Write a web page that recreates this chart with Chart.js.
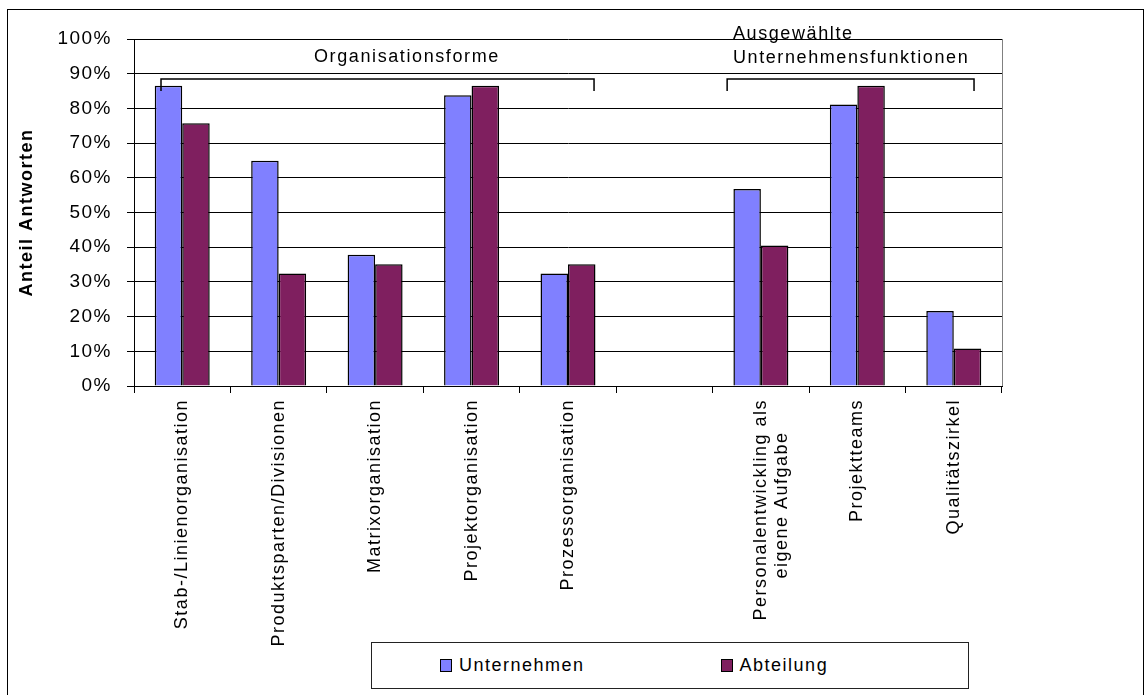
<!DOCTYPE html>
<html>
<head>
<meta charset="utf-8">
<script src="https://cdn.jsdelivr.net/npm/chart.js@4/dist/chart.umd.min.js"></script>
<style>
    body { margin: 0; background: #fff; }
    #wrap { position: relative; width: 1144px; height: 695px; overflow: hidden; }
    #frame { position: absolute; left: 7px; top: 9px; width: 1135px; height: 720px; border: 1px solid #000; }
    #chartBox { position: absolute; left: 0; top: 0; width: 1144px; height: 695px; }
    #legendBox {
        position: absolute; left: 371px; top: 642px; width: 598px; height: 47px;
        border: 1px solid #222; background: #fff;
        display: flex; align-items: center; padding-left: 68px; gap: 136px; box-sizing: border-box;
        font-family: "Liberation Sans", Arial, sans-serif; font-size: 18px; letter-spacing: 1.5px; color: #000;
    }
    .item { display: flex; align-items: center; }
    .swatch { width: 10px; height: 11px; border: 1px solid #000; margin-right: 7px; }
</style>
</head>
<body>
<div id="wrap">
    <div id="frame"></div>
    <div id="chartBox"><canvas id="umfrage"></canvas></div>
    <div id="legendBox"></div>
</div>
<script>
// Kategorien (leere Kategorie trennt die beiden Gruppen)
let categories = [
    'Stab-/Linienorganisation',
    'Produktsparten/Divisionen',
    'Matrixorganisation',
    'Projektorganisation',
    'Prozessorganisation',
    '',
    ['Personalentwickling als', 'eigene Aufgabe     '],
    'Projektteams',
    'Qualitätszirkel'
];
let seriesNames = ['Unternehmen', 'Abteilung'];
let unternehmen = [86.5, 64.9, 37.8, 83.8, 32.4, null, 56.8, 81.1, 21.6];
let abteilung = [75.7, 32.4, 35.1, 86.5, 35.1, null, 40.5, 86.5, 10.8];
let yTicks = [0, 10, 20, 30, 40, 50, 60, 70, 80, 90, 100];
let groupTitles = [['Organisationsforme'], ['Ausgewählte', 'Unternehmensfunktionen']];

let colors = ['#8080ff', '#7f1f5f'];
let fontName = '"Liberation Sans", Arial, sans-serif';

function spacing(chart) {
    chart.ctx.letterSpacing = '1.5px';
}

// Gruppenbeschriftung mit Klammern, rechter Rand der Zeichenfläche
let gruppenPlugin = {
    id: 'gruppen',
    beforeUpdate: spacing,
    beforeDraw: spacing,
    beforeDatasetsDraw(chart) {
        let ctx = chart.ctx;
        let area = chart.chartArea;
        ctx.save();
        ctx.strokeStyle = '#808080';
        ctx.lineWidth = 1;
        ctx.beginPath();
        ctx.moveTo(Math.round(area.right) + 0.5, area.top);
        ctx.lineTo(Math.round(area.right) + 0.5, area.bottom);
        ctx.stroke();
        ctx.restore();
    },
    afterDraw(chart) {
        let ctx = chart.ctx;
        let x = chart.scales.x;
        let y = chart.scales.y;
        ctx.save();
        ctx.letterSpacing = '1.6px';
        ctx.strokeStyle = '#000';
        ctx.lineWidth = 1.5;
        let brackets = [[-0.22, 4.27], [5.65, 8.21]];
        brackets.forEach(function (b) {
            let x1 = x.getPixelForValue(b[0]);
            let x2 = x.getPixelForValue(b[1]);
            let yTop = y.getPixelForValue(88.5);
            let yEnd = y.getPixelForValue(85);
            ctx.beginPath();
            ctx.moveTo(x1, yEnd);
            ctx.lineTo(x1, yTop);
            ctx.lineTo(x2, yTop);
            ctx.lineTo(x2, yEnd);
            ctx.stroke();
        });
        ctx.fillStyle = '#000';
        ctx.font = '18px ' + fontName;
        ctx.textBaseline = 'alphabetic';
        ctx.textAlign = 'center';
        ctx.fillText(groupTitles[0][0], x.getPixelForValue(2.33), y.getPixelForValue(93.4));
        ctx.textAlign = 'left';
        ctx.fillText(groupTitles[1][0], x.getPixelForValue(5.71), y.getPixelForValue(100));
        ctx.fillText(groupTitles[1][1], x.getPixelForValue(5.71), y.getPixelForValue(93.1));
        ctx.restore();
    }
};

function buildLegend() {
    let box = document.getElementById('legendBox');
    seriesNames.forEach(function (name, i) {
        let item = document.createElement('div');
        item.className = 'item';
        let sw = document.createElement('span');
        sw.className = 'swatch';
        sw.style.background = colors[i];
        let txt = document.createElement('span');
        txt.textContent = name;
        item.appendChild(sw);
        item.appendChild(txt);
        box.appendChild(item);
    });
}

function setupChart() {
    let ctx = document.getElementById('umfrage').getContext('2d');
    return new Chart(ctx, {
        type: 'bar',
        data: {
            labels: categories,
            datasets: [
                {
                    label: seriesNames[0],
                    data: unternehmen,
                    backgroundColor: colors[0],
                    borderColor: '#000',
                    borderWidth: 1.5
                },
                {
                    label: seriesNames[1],
                    data: abteilung,
                    backgroundColor: colors[1],
                    borderColor: '#000',
                    borderWidth: 1.5
                }
            ]
        },
        options: {
            responsive: true,
            maintainAspectRatio: false,
            animation: false,
            layout: { padding: { top: 39, right: 142, bottom: 0, left: 0 } },
            datasets: { bar: { categoryPercentage: 0.57, barPercentage: 1 } },
            plugins: {
                legend: { display: false },
                tooltip: { enabled: false }
            },
            scales: {
                x: {
                    grid: { offset: true, drawOnChartArea: false, drawTicks: true, tickLength: 7, color: '#000' },
                    border: { color: '#000', width: 1 },
                    ticks: {
                        autoSkip: false, maxRotation: 90, minRotation: 90, padding: 6,
                        color: '#000', font: { family: fontName, size: 18 }
                    },
                    afterFit(scale) { scale.height = 309; }
                },
                y: {
                    min: 0,
                    max: 100,
                    afterBuildTicks(scale) { scale.ticks = yTicks.map(v => ({ value: v })); },
                    grid: { color: '#000', tickLength: 7 },
                    border: { color: '#000', width: 1 },
                    ticks: {
                        padding: 15, color: '#000',
                        font: { family: fontName, size: 19 },
                        callback: v => v + '%'
                    },
                    title: {
                        display: true, text: 'Anteil Antworten', color: '#000',
                        font: { family: fontName, size: 18, weight: 'bold' },
                        padding: { top: 16, bottom: 0 }
                    },
                    afterFit(scale) { scale.width = 134; }
                }
            }
        },
        plugins: [gruppenPlugin]
    });
}

buildLegend();
let chart = setupChart();
</script>
</body>
</html>
